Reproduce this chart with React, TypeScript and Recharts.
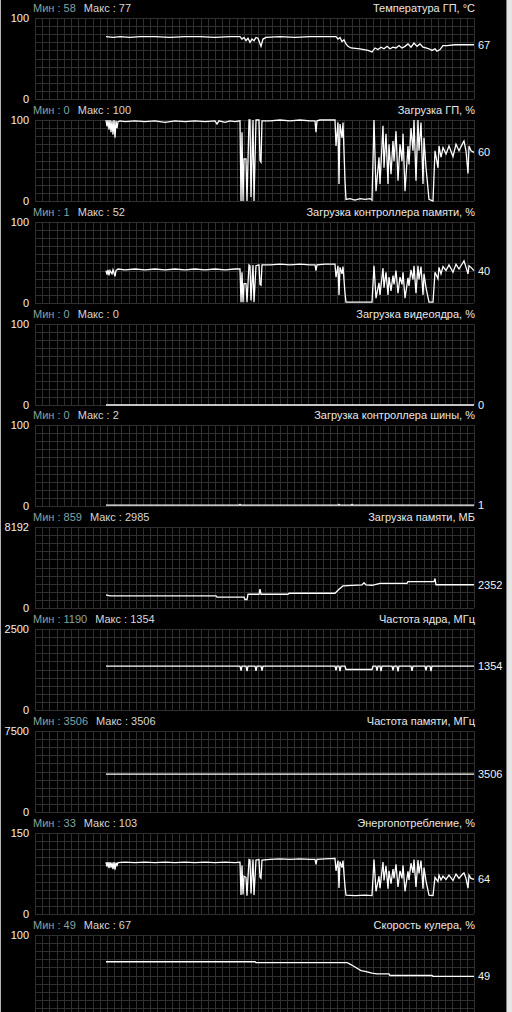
import React from 'react';
import { LineChart, Line, XAxis, YAxis, CartesianGrid } from 'recharts';

const FONT = '"Liberation Sans", Arial, sans-serif';

// ---- panel descriptors ----
const titles = [
  'Температура ГП, °C',
  'Загрузка ГП, %',
  'Загрузка контроллера памяти, %',
  'Загрузка видеоядра, %',
  'Загрузка контроллера шины, %',
  'Загрузка памяти, МБ',
  'Частота ядра, МГц',
  'Частота памяти, МГц',
  'Энергопотребление, %',
  'Скорость кулера, %',
];
const minValues = [58, 0, 1, 0, 0, 859, 1190, 3506, 33, 49];
const maxValues = [77, 100, 52, 0, 2, 2985, 1354, 3506, 103, 67];
const axisMax = [100, 100, 100, 100, 100, 8192, 2500, 7500, 150, 100];
const currentLabels = ['67', '60', '40', '0', '1', '2352', '1354', '3506', '64', '49'];

// ---- series: [time sample, value] ----
const gpuTemp: [number, number][] = [
  [71, 77], [78, 76], [85, 77], [95, 76], [105, 77], [120, 77], [135, 76], [150, 77], [165, 77], [180, 76], [195, 77],
  [205, 77], [207, 74], [209, 76], [211, 72], [213, 75], [215, 70], [217, 74], [219, 72], [221, 76], [223, 75], [226, 65],
  [228, 74], [231, 76], [245, 77], [260, 76], [275, 77], [290, 77], [301, 77], [303, 74], [305, 76], [307, 71], [309, 73],
  [311, 68], [313, 65], [316, 63], [325, 62], [333, 60], [337, 58], [340, 63], [343, 61], [346, 64], [349, 62], [352, 65],
  [355, 62], [358, 64], [361, 63], [364, 66], [367, 63], [370, 65], [373, 68], [376, 64], [379, 69], [382, 65], [385, 68],
  [388, 64], [391, 63], [394, 62], [397, 60], [400, 62], [402, 59], [405, 61], [408, 66], [412, 66], [420, 67], [430, 67], [439, 67],
];

const gpuLoad: [number, number][] = [
  [71, 100], [72, 92], [73, 100], [74, 88], [75, 100], [76, 85], [77, 99], [78, 82], [79, 100], [80, 78], [81, 99], [82, 90],
  [83, 98], [85, 99], [90, 98], [100, 99], [110, 98], [120, 99], [130, 97], [140, 99], [150, 98], [160, 99], [170, 98],
  [180, 99], [182, 95], [184, 99], [190, 97], [195, 99], [200, 98], [205, 99],
  [206, 0], [207, 85], [208, 0], [209, 52], [211, 52], [212, 0], [214, 100], [215, 100], [216, 5], [218, 100], [219, 0],
  [221, 100], [224, 100], [225, 50], [226, 48], [227, 99], [235, 99], [245, 100], [255, 99], [265, 100], [275, 99], [280, 99],
  [281, 85], [282, 99], [285, 100], [300, 100], [301, 68], [303, 97], [304, 21], [305, 95], [307, 78], [308, 97], [310, 25],
  [311, 2], [315, 3], [320, 1], [325, 3], [330, 2], [335, 3], [337, 1],
  [339, 100], [341, 12], [344, 54], [345, 21], [348, 93], [349, 41], [351, 83], [353, 21], [354, 70], [356, 33], [358, 74],
  [359, 49], [361, 86], [363, 25], [365, 70], [367, 49], [368, 83], [370, 12], [373, 68], [374, 45], [376, 90], [378, 62],
  [379, 100], [381, 25], [383, 100], [384, 62], [386, 97], [388, 21], [389, 78], [391, 41], [394, 2], [398, 0], [400, 62],
  [403, 41], [404, 68], [406, 54], [408, 66], [411, 58], [414, 68], [418, 55], [421, 70], [424, 62], [428, 72], [429, 74],
  [431, 62], [433, 34], [434, 68], [436, 62], [439, 60],
];

const memCtrlLoad: [number, number][] = [
  [71, 40], [72, 35], [73, 41], [74, 34], [75, 40], [77, 36], [78, 41], [80, 33], [81, 40], [83, 42], [90, 41], [100, 42],
  [110, 41], [120, 42], [130, 41], [140, 42], [150, 41], [160, 42], [170, 41], [180, 42], [190, 41], [200, 42], [205, 42],
  [206, 1], [207, 38], [208, 1], [209, 24], [211, 24], [212, 1], [214, 47], [215, 46], [216, 3], [218, 47], [219, 1],
  [221, 46], [224, 47], [225, 23], [226, 22], [227, 47], [235, 47], [245, 48], [255, 47], [265, 48], [275, 47], [280, 47],
  [281, 40], [282, 47], [290, 48], [300, 48], [301, 32], [303, 46], [304, 10], [305, 44], [307, 36], [308, 45], [310, 12],
  [311, 1], [320, 1], [330, 1], [337, 1],
  [339, 46], [341, 6], [344, 25], [345, 10], [348, 43], [349, 19], [351, 38], [353, 10], [354, 32], [356, 15], [358, 34],
  [359, 23], [361, 40], [363, 12], [365, 32], [367, 23], [368, 38], [370, 6], [373, 31], [374, 21], [376, 41], [378, 29],
  [379, 46], [381, 12], [383, 46], [384, 29], [386, 45], [388, 10], [389, 36], [391, 19], [394, 1], [398, 1], [400, 38],
  [403, 30], [404, 44], [406, 36], [408, 45], [411, 40], [414, 47], [418, 38], [421, 48], [424, 42], [428, 50], [429, 52],
  [431, 44], [433, 36], [434, 46], [436, 44], [439, 40],
];

const videoLoad: [number, number][] = [[71, 0], [439, 0]];

const busLoad: [number, number][] = [
  [71, 1], [204, 1], [205, 2], [206, 1], [303, 1], [304, 2], [305, 1], [316, 1], [317, 2], [318, 1], [439, 1],
];

const memUsed: [number, number][] = [
  [71, 1330], [75, 1220], [181, 1220], [182, 1100], [209, 1100], [210, 860], [212, 860], [213, 1390], [224, 1390],
  [225, 1900], [226, 1390], [253, 1390], [254, 1490], [300, 1490], [304, 1900], [308, 2230], [327, 2330], [329, 2560],
  [331, 2330], [337, 2300], [345, 2500], [372, 2500], [373, 2660], [399, 2660], [400, 2985], [401, 2352], [439, 2352],
];

const coreClock: [number, number][] = [
  [71, 1354], [205, 1354], [206, 1215], [207, 1354], [211, 1354], [212, 1200], [213, 1354], [220, 1354], [221, 1210],
  [222, 1354], [226, 1354], [227, 1215], [228, 1354], [300, 1354], [301, 1220], [302, 1354], [304, 1354], [305, 1200],
  [306, 1354], [310, 1354], [311, 1250], [337, 1250], [338, 1354], [341, 1354], [342, 1215], [343, 1354], [345, 1354],
  [346, 1200], [347, 1354], [357, 1354], [358, 1220], [359, 1354], [362, 1354], [363, 1190], [364, 1354], [376, 1354],
  [377, 1210], [378, 1354], [390, 1354], [391, 1220], [392, 1354], [395, 1354], [396, 1200], [397, 1354], [439, 1354],
];

const memClock: [number, number][] = [[71, 3506], [439, 3506]];

const power: [number, number][] = [
  [71, 96], [72, 88], [73, 96], [74, 85], [75, 96], [76, 86], [77, 95], [78, 83], [79, 96], [80, 82], [81, 95], [82, 90],
  [83, 95], [90, 96], [100, 95], [110, 96], [120, 95], [130, 96], [140, 95], [150, 96], [160, 95], [170, 96], [180, 95],
  [190, 96], [200, 95], [205, 96], [206, 35], [207, 90], [208, 36], [209, 70], [211, 68], [212, 34], [214, 101], [215, 100],
  [216, 38], [218, 101], [219, 35], [221, 100], [224, 101], [225, 68], [226, 66], [227, 100], [235, 101], [245, 102],
  [255, 101], [265, 102], [275, 101], [280, 101], [281, 92], [282, 101], [290, 102], [300, 103], [301, 80], [303, 99],
  [304, 48], [305, 97], [307, 86], [308, 99], [310, 50], [311, 35], [320, 34], [330, 35], [337, 34],
  [339, 101], [341, 42], [344, 70], [345, 48], [348, 96], [349, 62], [351, 89], [353, 47], [354, 80], [356, 56], [358, 83],
  [359, 66], [361, 92], [363, 50], [365, 80], [367, 66], [368, 90], [370, 42], [373, 79], [374, 63], [376, 94], [378, 76],
  [379, 101], [381, 50], [383, 100], [384, 75], [386, 99], [388, 47], [389, 86], [391, 61], [394, 35], [398, 34], [400, 68],
  [403, 60], [404, 72], [406, 63], [408, 70], [411, 64], [414, 72], [418, 62], [421, 74], [424, 66], [428, 75], [429, 76],
  [431, 66], [433, 48], [434, 72], [436, 66], [439, 64],
];

const fanSpeed: [number, number][] = [
  [71, 67], [220, 67], [221, 66], [312, 66], [315, 64], [318, 62], [322, 59], [326, 56], [330, 55], [337, 53], [342, 52],
  [354, 52], [355, 50], [397, 50], [398, 49], [439, 49],
];

const seriesList = [gpuTemp, gpuLoad, memCtrlLoad, videoLoad, busLoad, memUsed, coreClock, memClock, power, fanSpeed];

const TIME_SPAN = 439;
const GRID_COLS = 61;
const GRID_ROWS = 10;
const PANEL_STEP = 101.85;
const W = 512;
const PANEL_H = 108;
const PAGE_H = 1012;

const gridV = (props: any) => {
  const o = props.offset;
  const w = o.width ?? props.width - o.left - o.right;
  return Array.from({ length: GRID_COLS + 1 }, (_, k) => Math.round(o.left + (k * w) / GRID_COLS) + 0.5);
};
const gridH = (props: any) => {
  const o = props.offset;
  const h = o.height ?? props.height - o.top - o.bottom;
  return Array.from({ length: GRID_ROWS + 1 }, (_, k) => Math.round(o.top + (k * h) / GRID_ROWS) + 0.5);
};

function Panel({ i }: { i: number }) {
  const data = seriesList[i].map(([t, v]) => ({ t, v }));
  const last = data.length - 1;
  const top = Math.round(PANEL_STEP * i);
  // the bottom "0" of the last panel falls below the page edge in the reference
  const bottomVisible = top + 18 + 81 + 5 < PAGE_H;
  const yTicks = bottomVisible ? [0, axisMax[i]] : [axisMax[i]];
  const endDot = (p: any) =>
    p.index === last ? (
      <text key={`end-${i}`} x={p.cx + 4} y={p.cy} dy={4} fill="#f2f2f2" fontSize={11} fontFamily={FONT}>
        {currentLabels[i]}
      </text>
    ) : (
      <g key={`d-${i}-${p.index}`} />
    );
  return (
    <div style={{ position: 'absolute', left: 0, top, width: W, height: PANEL_H }}>
      <LineChart width={W} height={PANEL_H} data={data} margin={{ top: 18, right: 38, bottom: 9, left: 0 }}>
        <CartesianGrid
          stroke="#2f2f2f"
          strokeWidth={1}
          verticalCoordinatesGenerator={gridV}
          horizontalCoordinatesGenerator={gridH}
        />
        <XAxis type="number" dataKey="t" domain={[0, TIME_SPAN]} hide />
        <YAxis
          type="number"
          domain={[0, axisMax[i]]}
          ticks={yTicks}
          interval={0}
          width={35}
          axisLine={false}
          tickLine={false}
          tickSize={0}
          tickMargin={6}
          tick={{ fill: '#f2f2f2', fontSize: 11, fontFamily: FONT }}
        />
        <Line
          type="linear"
          dataKey="v"
          stroke="#ffffff"
          strokeWidth={1.3}
          dot={endDot}
          activeDot={false}
          isAnimationActive={false}
        />
      </LineChart>
      <div
        style={{
          position: 'absolute',
          left: 33,
          top: 3,
          fontFamily: FONT,
          fontSize: 11,
          lineHeight: '11px',
          whiteSpace: 'pre',
        }}
      >
        <span style={{ color: '#86a3a3' }}>{`Мин : ${minValues[i]}`}</span>
        <span style={{ color: '#d6d6d6', marginLeft: 8 }}>{`Макс : ${maxValues[i]}`}</span>
      </div>
      <div
        style={{
          position: 'absolute',
          right: 37,
          top: 3,
          fontFamily: FONT,
          fontSize: 11,
          lineHeight: '11px',
          color: '#e8e8e8',
          whiteSpace: 'pre',
          textAlign: 'right',
        }}
      >
        {titles[i]}
      </div>
    </div>
  );
}

export default function App() {
  return (
    <div
      style={{
        position: 'absolute',
        left: 0,
        top: 0,
        width: W,
        height: PAGE_H,
        background: '#000',
        overflow: 'hidden',
      }}
    >
      {titles.map((_, i) => (
        <Panel key={i} i={i} />
      ))}
      <div style={{ position: 'absolute', left: 0, top: 0, width: 1, height: PAGE_H, background: '#b4b4b4' }} />
      <div style={{ position: 'absolute', left: 506, top: 0, width: 1, height: PAGE_H, background: '#808080' }} />
      <div style={{ position: 'absolute', left: 507, top: 0, width: 5, height: PAGE_H, background: '#e4e4e4' }} />
    </div>
  );
}
